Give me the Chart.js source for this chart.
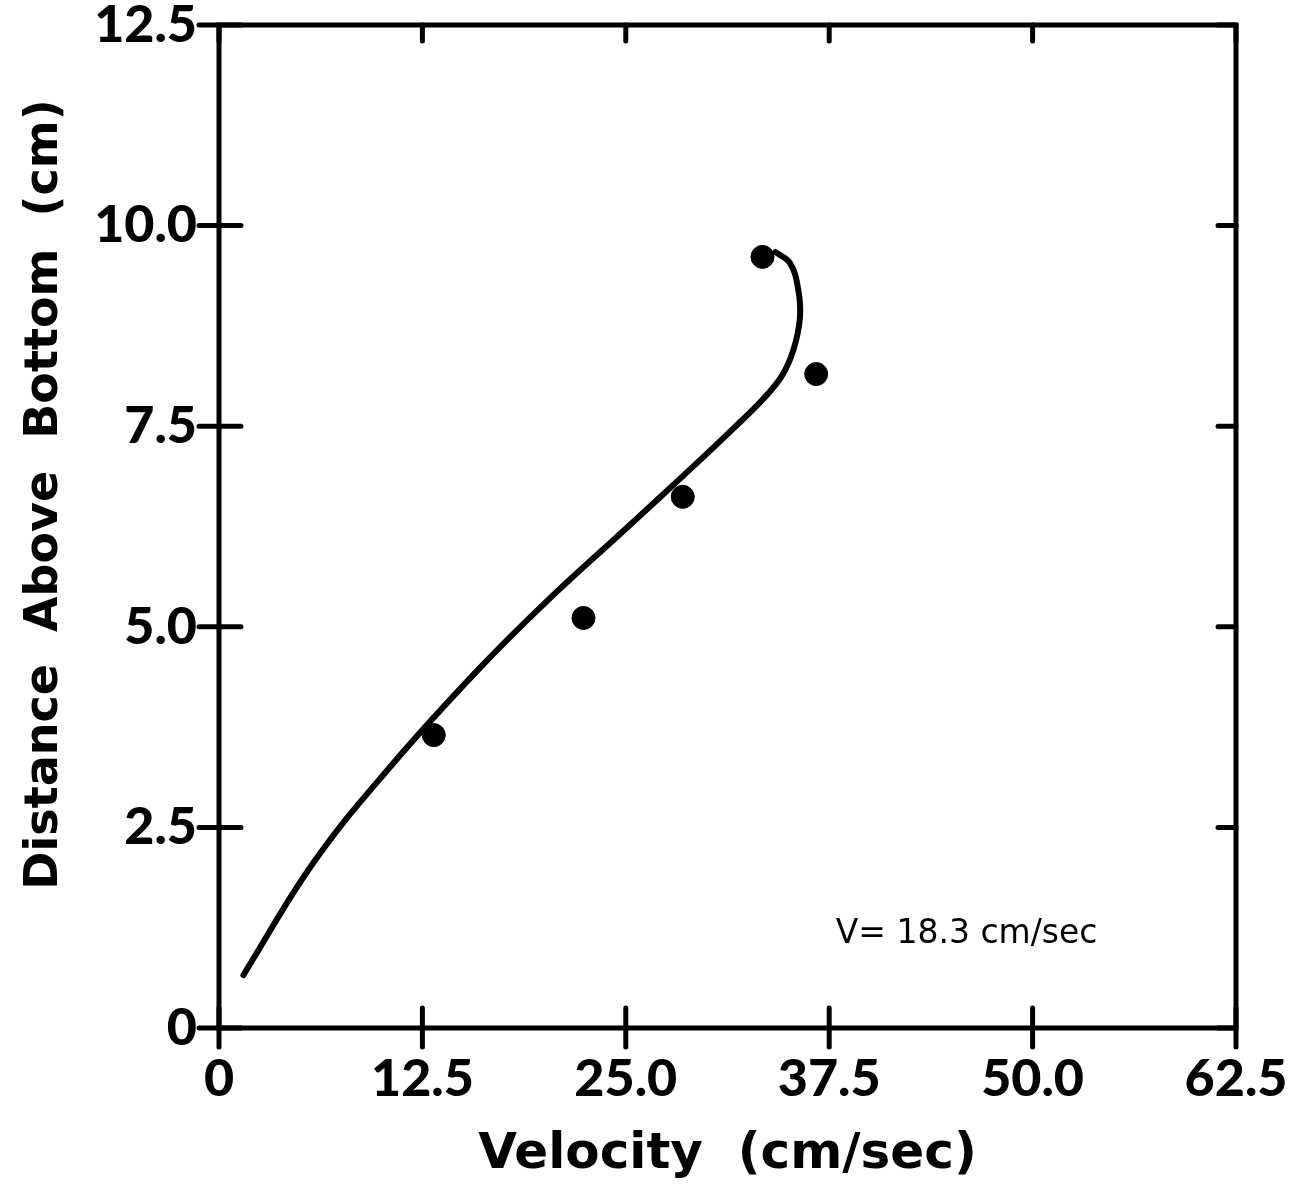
<!DOCTYPE html>
<html>
<head>
<meta charset="utf-8">
<script src="https://cdn.jsdelivr.net/npm/chart.js@4/dist/chart.umd.min.js"></script>
<style>
  html, body { margin: 0; padding: 0; background: #fff; }
  #wrap { width: 1291px; height: 1201px; }
</style>
</head>
<body>
<div id="wrap"><canvas id="velocityChart"></canvas></div>
<script>
// measured points
const pointVelocity = [13.2, 22.4, 28.5, 33.4, 36.7];
const pointHeight = [3.65, 5.11, 6.62, 9.61, 8.15];

// hand-drawn fitted curve, read along its path
const curveVelocity = [1.5, 5.8, 10.5, 15.9, 20.2, 25.1, 29.1, 31.6, 33.4, 34.6, 35.3, 35.7, 35.6, 35.1, 34.2];
const curveHeight = [0.66, 2.06, 3.25, 4.46, 5.33, 6.24, 6.99, 7.47, 7.83, 8.13, 8.45, 8.85, 9.2, 9.53, 9.67];

const xTickLabels = ['0', '12.5', '25.0', '37.5', '50.0', '62.5'];
const yTickLabels = ['0', '2.5', '5.0', '7.5', '10.0', '12.5'];

const note = 'V= 18.3 cm/sec';

const points = pointVelocity.map((v, i) => ({ x: v, y: pointHeight[i] }));
const curve = curveVelocity.map((v, i) => ({ x: v, y: curveHeight[i] }));

// frame with tick marks like the original plot
const framePlugin = {
    id: 'frame',
    afterDraw(chart) {
        const { ctx, chartArea: a, scales } = chart;
        const xs = scales.x, ys = scales.y;
        ctx.save();
        ctx.strokeStyle = '#000';
        ctx.lineWidth = 5;
        ctx.lineCap = 'round';
        ctx.beginPath();
        ctx.rect(a.left, a.top, a.right - a.left, a.bottom - a.top);
        ctx.stroke();
        ctx.beginPath();
        xs.ticks.forEach(t => {
            const px = xs.getPixelForValue(t.value);
            ctx.moveTo(px, a.bottom - 20);
            ctx.lineTo(px, a.bottom + 19);
            ctx.moveTo(px, a.top);
            ctx.lineTo(px, a.top + 16);
        });
        ys.ticks.forEach(t => {
            const py = ys.getPixelForValue(t.value);
            ctx.moveTo(a.left - 20, py);
            ctx.lineTo(a.left + 22, py);
            ctx.moveTo(a.right, py);
            ctx.lineTo(a.right - 18, py);
        });
        ctx.stroke();

        // annotation
        ctx.fillStyle = '#000';
        ctx.font = '33px "DejaVu Sans"';
        ctx.textAlign = 'left';
        ctx.textBaseline = 'middle';
        ctx.fillText(note, xs.getPixelForValue(37.9), ys.getPixelForValue(1.16));
        ctx.restore();
    }
};

const ctx = document.getElementById('velocityChart');
new Chart(ctx.getContext('2d'), {
    type: 'scatter',
    data: {
        datasets: [{
            label: 'Measured',
            data: points,
            backgroundColor: '#000',
            borderColor: '#000',
            pointRadius: 11.5,
            pointHoverRadius: 11.5
        }, {
            label: 'Fit',
            data: curve,
            showLine: true,
            borderColor: '#000',
            borderWidth: 6,
            tension: 0.4,
            pointRadius: 0,
            borderCapStyle: 'round'
        }]
    },
    options: {
        responsive: true,
        maintainAspectRatio: false,
        animation: false,
        layout: { padding: { top: 25, right: 55, left: 0, bottom: 0 } },
        plugins: {
            legend: { display: false },
            tooltip: { enabled: false }
        },
        scales: {
            x: {
                type: 'linear',
                min: 0,
                max: 62.5,
                grid: { display: false, drawTicks: false },
                border: { display: false },
                ticks: {
                    stepSize: 12.5,
                    color: '#000',
                    padding: 25,
                    font: { family: 'Lato', size: 52, weight: '900', lineHeight: 1 },
                    callback: (v, i) => xTickLabels[i]
                },
                title: {
                    display: true,
                    text: 'Velocity  (cm/sec)',
                    color: '#000',
                    font: { family: 'DejaVu Sans', size: 50, weight: 'bold' },
                    padding: { top: 0, bottom: 16 }
                },
                afterFit(s) {
                    s.height = 173;
                    s.paddingLeft = 0;
                    s.paddingRight = 0;
                }
            },
            y: {
                type: 'linear',
                min: 0,
                max: 12.5,
                grid: { display: false, drawTicks: false },
                border: { display: false },
                ticks: {
                    stepSize: 2.5,
                    color: '#000',
                    padding: 22,
                    font: { family: 'Lato', size: 52, weight: '900', lineHeight: 1 },
                    callback: (v, i) => yTickLabels[i]
                },
                title: {
                    display: true,
                    text: '    Distance  Above  Bottom  (cm)',
                    color: '#000',
                    font: { family: 'DejaVu Sans', size: 46, weight: 'bold' },
                    padding: { top: 17, bottom: 0 }
                },
                afterFit(s) {
                    s.width = 219;
                    s.paddingTop = 0;
                    s.paddingBottom = 0;
                }
            }
        }
    },
    plugins: [framePlugin]
});
</script>
</body>
</html>
